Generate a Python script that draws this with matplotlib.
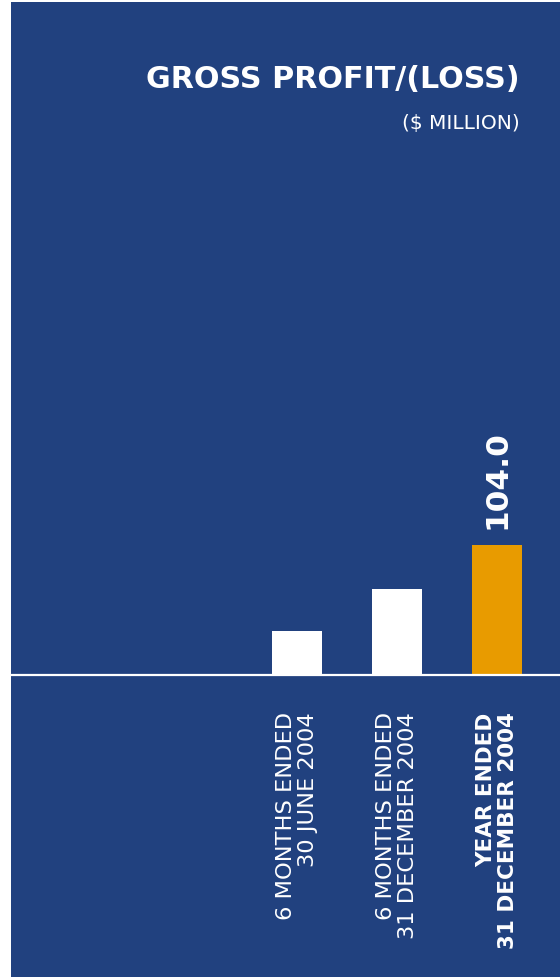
import matplotlib.pyplot as plt

plt.rcParams['font.family'] = ['DejaVu Sans']

# data
categories = ['6 MONTHS ENDED\n30 JUNE 2004',
              '6 MONTHS ENDED\n31 DECEMBER 2004',
              'YEAR ENDED\n31 DECEMBER 2004']
values = [34.9, 68.7, 104.0]
bar_colors = ['white', 'white', '#E89B00']
label_bold = [False, False, True]

blue = '#21417F'

fig = plt.figure(figsize=(5.6, 9.78), dpi=100, facecolor='white')

# blue panel with a thin white margin on the left and top
ax = fig.add_axes([11 / 560, 0, 549 / 560, 975 / 978])
ax.set_facecolor(blue)
for s in ax.spines.values():
    s.set_visible(False)
ax.set_xticks([])
ax.set_yticks([])

# 100 px per category, 1.253 px per $m
ax.set_xlim(-2.86, 2.63)
ax.set_ylim(-241.0, 537.1)

x = range(len(values))
ax.bar(x, values, width=0.5, color=bar_colors, zorder=2)
ax.axhline(0, color='white', lw=1.6, zorder=3)

# value label on the last bar
ax.text(2, values[2] + 13, f'{values[2]:.1f}', rotation=90, ha='center', va='bottom',
        color='white', fontsize=22.5, fontweight='bold')

# category labels under the baseline
for i, (cat, b) in enumerate(zip(categories, label_bold)):
    ax.text(i, -29, cat, rotation=90, ha='center', va='top', multialignment='right',
            color='white', fontsize=15.5 if b else 16.2,
            fontweight='bold' if b else 'normal', linespacing=1.12)

fig.text(520 / 560, 1 - 80 / 978, 'GROSS PROFIT/(LOSS)', ha='right', va='center',
         color='white', fontsize=21.7, fontweight='bold')
fig.text(520 / 560, 1 - 124 / 978, '($ MILLION)', ha='right', va='center',
         color='white', fontsize=14.5)

fig.savefig('out.png', dpi=100, facecolor='white')
